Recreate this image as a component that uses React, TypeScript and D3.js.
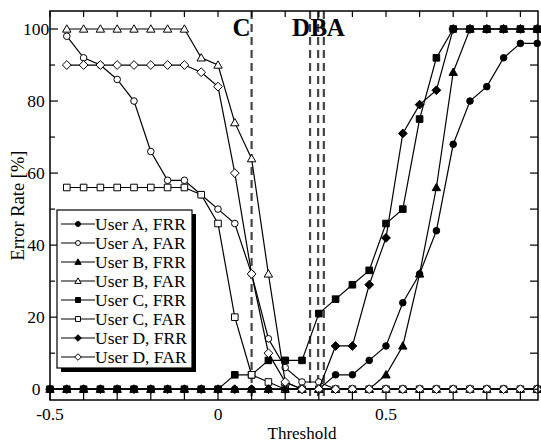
import React from "react";
import * as d3 from "d3";

const thresholds = [-0.5, -0.45, -0.4, -0.35, -0.3, -0.25, -0.2, -0.15, -0.1, -0.05, 0, 0.05, 0.1, 0.15, 0.2, 0.25, 0.3, 0.35, 0.4, 0.45, 0.5, 0.55, 0.6, 0.65, 0.7, 0.75, 0.8, 0.85, 0.9, 0.95];

const userA_FRR = [0, 0, 0, 0, 0, 0, 0, 0, 0, 0, 0, 0, 0, 0, 0, 0, 0, 4, 4, 8, 12, 24, 32, 44, 68, 80, 84, 92, 96, 96];
const userA_FAR = [null, 98, 92, 90, 86, 80, 66, 58, 58, 54, 50, 46, 32, 14, 6, 2, 2, 0, 0, 0, 0, 0, 0, 0, 0, 0, 0, 0, 0, 0];
const userB_FRR = [0, 0, 0, 0, 0, 0, 0, 0, 0, 0, 0, 0, 0, 0, 0, 0, 0, 0, 0, 0, 4, 12, 32, 56, 88, 100, 100, 100, 100, 100];
const userB_FAR = [null, 100, 100, 100, 100, 100, 100, 100, 100, 92, 90, 74, 64, 32, 2, 0, 0, 0, 0, 0, 0, 0, 0, 0, 0, 0, 0, 0, 0, 0];
const userC_FRR = [0, 0, 0, 0, 0, 0, 0, 0, 0, 0, 0, 4, 4, 8, 8, 8, 21, 25, 29, 33, 46, 50, 75, 92, 100, 100, 100, 100, 100, 100];
const userC_FAR = [null, 56, 56, 56, 56, 56, 56, 56, 56, 54, 46, 20, 4, 2, 0, 0, 0, 0, 0, 0, 0, 0, 0, 0, 0, 0, 0, 0, 0, 0];
const userD_FRR = [0, 0, 0, 0, 0, 0, 0, 0, 0, 0, 0, 0, 0, 0, 0, 0, 0, 12, 12, 29, 42, 71, 79, 83, 100, 100, 100, 100, 100, 100];
const userD_FAR = [null, 90, 90, 90, 90, 90, 90, 90, 90, 88, 84, 60, 32, 10, 2, 0, 0, 0, 0, 0, 0, 0, 0, 0, 0, 0, 0, 0, 0, 0];

const seriesNames = ["User A, FRR", "User A, FAR", "User B, FRR", "User B, FAR", "User C, FRR", "User C, FAR", "User D, FRR", "User D, FAR"];
const seriesValues = [userA_FRR, userA_FAR, userB_FRR, userB_FAR, userC_FRR, userC_FAR, userD_FRR, userD_FAR];
const seriesShapes = ["circle", "circle", "triangle", "triangle", "square", "square", "diamond", "diamond"];
const seriesFilled = [true, false, true, false, true, false, true, false];

const eerLabels = ["C", "D", "B", "A"];
const eerThresholds = [0.1, 0.274, 0.298, 0.315];

const xMajorTicks = [-0.5, 0, 0.5];
const xMajorLabels = ["-0.5", "0", "0.5"];
const xMinorTicks = [-0.4, -0.3, -0.2, -0.1, 0.1, 0.2, 0.3, 0.4, 0.6, 0.7, 0.8, 0.9];
const yMajorTicks = [0, 20, 40, 60, 80, 100];
const yMinorTicks = [10, 30, 50, 70, 90];

const W = 541;
const H = 442;
const L = 50, R = 538, T = 11, B = 400;
const FONT = "'Liberation Serif', 'Times New Roman', serif";

function markerPath(kind: string, k: number): string {
  if (kind === "circle") {
    const r = 3.3 * k;
    return `M${-r},0A${r},${r} 0 1,0 ${r},0A${r},${r} 0 1,0 ${-r},0Z`;
  }
  if (kind === "square") {
    const s = 3.3 * k;
    return `M${-s},${-s}L${s},${-s}L${s},${s}L${-s},${s}Z`;
  }
  if (kind === "triangle") {
    const s = 4.2 * k;
    return `M0,${-s}L${s},${s * 0.75}L${-s},${s * 0.75}Z`;
  }
  const d = 4.4 * k;
  return `M0,${-d}L${d},0L0,${d}L${-d},0Z`;
}

export default function App() {
  const x = d3.scaleLinear().domain([-0.5, 0.95]).range([L, R - 0.8]);
  const y = d3.scaleLinear().domain([-3, 105]).range([B, T]);

  const line = d3
    .line<[number, number | null]>()
    .defined((d) => d[1] !== null)
    .x((d) => x(d[0]))
    .y((d) => y(d[1] as number));

  const legendX = 57, legendY = 210, legendW = 135, legendH = 158;

  return (
    <svg width={W} height={H} style={{ position: "absolute", left: 0, top: 0, background: "#fff" }} fontFamily={FONT}>
      <rect x={0} y={0} width={W} height={H} fill="#fff" />
      {/* EER dashed lines */}
      {eerThresholds.map((t, i) => (
        <line key={"eer" + i} x1={x(t)} x2={x(t)} y1={T} y2={B} stroke="#444" strokeWidth={2.2} strokeDasharray="8,5" />
      ))}
      {/* series */}
      {seriesValues.map((vals, si) => {
        const pts = thresholds.map((t, i) => [t, vals[i]] as [number, number | null]);
        return (
          <g key={"s" + si}>
            <path d={line(pts) || ""} fill="none" stroke="#000" strokeWidth={1.2} />
            {pts
              .filter((p) => p[1] !== null)
              .map((p, j) => (
                <path
                  key={j}
                  d={markerPath(seriesShapes[si], 1)}
                  transform={`translate(${x(p[0])},${y(p[1] as number)})`}
                  fill={seriesFilled[si] ? "#000" : "#fff"}
                  stroke="#000"
                  strokeWidth={1}
                />
              ))}
          </g>
        );
      })}
      {/* frame */}
      <rect x={L} y={T} width={R - L} height={B - T} fill="none" stroke="#000" strokeWidth={1.5} />
      {/* x ticks */}
      {xMajorTicks.concat(xMinorTicks).map((t, i) => (
        <g key={"xt" + i}>
          <line x1={x(t)} x2={x(t)} y1={B} y2={B - 9} stroke="#000" strokeWidth={1.2} />
          <line x1={x(t)} x2={x(t)} y1={T} y2={T + 6} stroke="#000" strokeWidth={1.2} />
        </g>
      ))}
      {xMajorTicks.map((t, i) => (
        <text key={"xl" + i} x={x(t)} y={419.5} fontSize={17.5} textAnchor="middle" fill="#000">
          {xMajorLabels[i]}
        </text>
      ))}
      {/* y ticks */}
      {yMajorTicks.map((t, i) => (
        <g key={"ym" + i}>
          <line x1={L} x2={L + 8} y1={y(t)} y2={y(t)} stroke="#000" strokeWidth={1.2} />
          <line x1={R} x2={R - 8} y1={y(t)} y2={y(t)} stroke="#000" strokeWidth={1.2} />
          <text x={36} y={y(t) + 6} fontSize={17.5} textAnchor="middle" fill="#000">
            {String(t)}
          </text>
        </g>
      ))}
      {yMinorTicks.map((t, i) => (
        <g key={"yn" + i}>
          <line x1={L} x2={L + 5} y1={y(t)} y2={y(t)} stroke="#000" strokeWidth={1.2} />
          <line x1={R} x2={R - 8} y1={y(t)} y2={y(t)} stroke="#000" strokeWidth={1.2} />
        </g>
      ))}
      {/* axis titles */}
      <text x={302} y={439} fontSize={17} textAnchor="middle" fill="#000">Threshold</text>
      <text transform={`translate(24,${(T + B) / 2}) rotate(-90)`} fontSize={18.5} textAnchor="middle" fill="#000">
        Error Rate [%]
      </text>
      {/* EER labels */}
      <text x={x(eerThresholds[0]) - 1} y={36} fontSize={25} fontWeight="bold" textAnchor="end" fill="#000">{eerLabels[0]}</text>
      <text x={x(eerThresholds[1])} y={36} fontSize={25} fontWeight="bold" textAnchor="end" fill="#000">{eerLabels[1]}</text>
      <text x={x(eerThresholds[1]) + 0.5} y={36} fontSize={25} fontWeight="bold" textAnchor="start" fill="#000">{eerLabels[2]}</text>
      <text x={x(eerThresholds[3]) + 3} y={36} fontSize={25} fontWeight="bold" textAnchor="start" fill="#000">{eerLabels[3]}</text>
      {/* legend */}
      <rect x={legendX + 4} y={legendY + 4} width={legendW} height={legendH} fill="#000" />
      <rect x={legendX} y={legendY} width={legendW} height={legendH} fill="#fff" stroke="#000" strokeWidth={1.2} />
      {seriesNames.map((name, i) => {
        const ly = 224 + 19 * i;
        return (
          <g key={"lg" + i}>
            <line x1={61} x2={95} y1={ly} y2={ly} stroke="#000" strokeWidth={1.2} />
            <path
              d={markerPath(seriesShapes[i], 0.75)}
              transform={`translate(78,${ly})`}
              fill={seriesFilled[i] ? "#000" : "#fff"}
              stroke="#000"
              strokeWidth={1}
            />
            <text x={95} y={ly + 6} fontSize={17.5} fill="#000">{name}</text>
          </g>
        );
      })}
    </svg>
  );
}
